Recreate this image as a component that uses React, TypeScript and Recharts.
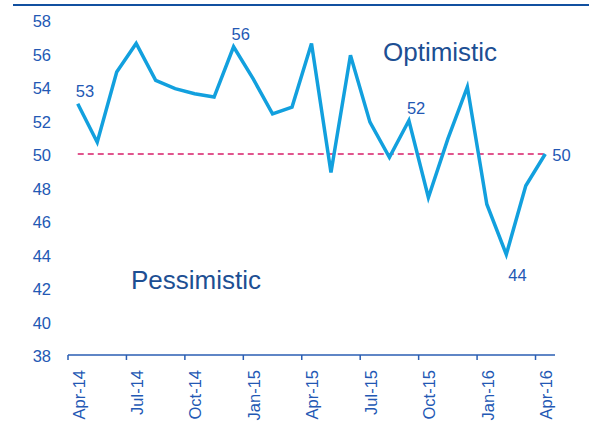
import React from 'react';
import {
  LineChart,
  Line,
  XAxis,
  YAxis,
  ReferenceLine,
  LabelList,
  Customized,
} from 'recharts';

// monthly readings, Apr-14 .. Apr-16
const months = [
  'Apr-14', 'May-14', 'Jun-14', 'Jul-14', 'Aug-14', 'Sep-14', 'Oct-14', 'Nov-14', 'Dec-14',
  'Jan-15', 'Feb-15', 'Mar-15', 'Apr-15', 'May-15', 'Jun-15', 'Jul-15', 'Aug-15', 'Sep-15',
  'Oct-15', 'Nov-15', 'Dec-15', 'Jan-16', 'Feb-16', 'Mar-16', 'Apr-16',
];
const readings = [
  53.0, 50.7, 54.9, 56.6, 54.4, 53.9, 53.6, 53.4, 56.4,
  54.5, 52.4, 52.8, 56.6, 48.9, 55.9, 51.9, 49.8, 52.0,
  47.4, 50.9, 54.0, 47.0, 44.0, 48.1, 50.0,
];
const neutralLevel = 50;
const yTicks = [38, 40, 42, 44, 46, 48, 50, 52, 54, 56, 58];
const labelTicks = [0, 3, 6, 9, 12, 15, 18, 21, 24];
const boundaryTicks = [-0.5, 2.5, 5.5, 8.5, 11.5, 14.5, 17.5, 20.5, 23.5];
const calledOut: Record<number, 'above' | 'below' | 'right'> = {
  0: 'above',
  8: 'above',
  17: 'above',
  22: 'below',
  24: 'right',
};

const data = months.map((month, i) => ({ i, month, value: readings[i] }));

const FONT = '"Liberation Sans", Arial, sans-serif';
const TICK_BLUE = '#2358b4';
const DARK_BLUE = '#1d4f93';
const AXIS_BLUE = '#2a5eb3';
const TEXT_SIZE = 16.5;

const YTick = ({ x, y, payload }: any) => (
  <text x={x} y={y} dy={7} textAnchor="end" fill={TICK_BLUE} fontSize={TEXT_SIZE} fontFamily={FONT}>
    {payload.value}
  </text>
);

const MonthTick = ({ x, y, payload }: any) => (
  <text
    transform={`translate(${x + 1},${y + 14}) rotate(-90)`}
    textAnchor="end"
    dy="0.35em"
    fill={TICK_BLUE}
    fontSize={TEXT_SIZE}
    fontFamily={FONT}
  >
    {months[payload.value]}
  </text>
);

const PointLabel = (props: any) => {
  const { x, y, value, index } = props;
  const place = calledOut[index];
  if (!place) return null;
  let tx = x - 2;
  let ty = y - 7;
  if (place === 'below') {
    tx = x + 2;
    ty = y + 26;
  } else if (place === 'right') {
    tx = x + 7;
    ty = y + 7;
  }
  return (
    <text x={tx} y={ty} fill={TICK_BLUE} fontSize={TEXT_SIZE} fontFamily={FONT}>
      {Math.round(value)}
    </text>
  );
};

const Zones = () => (
  <g fontFamily={FONT} fontSize={26} fill={DARK_BLUE}>
    <text x={383} y={61}>Optimistic</text>
    <text x={131} y={289}>Pessimistic</text>
  </g>
);

export default function App() {
  return (
    <div style={{ position: 'absolute', left: 0, top: 0, width: 589, height: 437, background: '#fff' }}>
      <div style={{ position: 'absolute', left: 13, top: 4, width: 576, height: 2, background: '#1150a0' }} />
      <LineChart
        width={589}
        height={437}
        data={data}
        margin={{ top: 20, right: 34, left: 0, bottom: 0 }}
      >
        <YAxis
          yAxisId="v"
          domain={[38, 58]}
          ticks={yTicks}
          width={68}
          axisLine={false}
          tickLine={false}
          tickSize={0}
          tickMargin={17}
          tick={<YTick />}
        />
        <XAxis
          xAxisId="bounds"
          dataKey="i"
          type="number"
          domain={[-0.5, 24.5]}
          ticks={boundaryTicks}
          height={1}
          tickSize={5}
          tickFormatter={() => ''}
          axisLine={{ stroke: AXIS_BLUE, strokeWidth: 1.5 }}
          tickLine={{ stroke: AXIS_BLUE, strokeWidth: 1.5 }}
        />
        <XAxis
          xAxisId="cat"
          dataKey="i"
          type="number"
          domain={[-0.5, 24.5]}
          ticks={labelTicks}
          height={81}
          axisLine={false}
          tickLine={false}
          tickSize={0}
          tickMargin={0}
          tick={<MonthTick />}
          interval={0}
        />
        <ReferenceLine
          xAxisId="cat"
          yAxisId="v"
          segment={[
            { x: 0, y: neutralLevel },
            { x: months.length - 1, y: neutralLevel },
          ]}
          stroke="#d81e68"
          strokeWidth={1.5}
          strokeDasharray="6 4"
        />
        <Line
          xAxisId="cat"
          yAxisId="v"
          type="linear"
          dataKey="value"
          stroke="#12a0de"
          strokeWidth={3.5}
          dot={false}
          isAnimationActive={false}
        >
          <LabelList dataKey="value" content={<PointLabel />} />
        </Line>
        <Customized component={Zones} />
      </LineChart>
    </div>
  );
}
